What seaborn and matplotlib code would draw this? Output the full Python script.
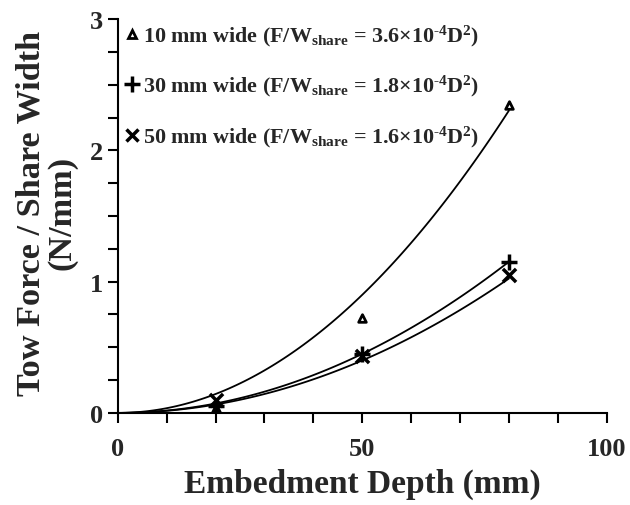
import numpy as np
import pandas as pd
import matplotlib
matplotlib.use("Agg")
import matplotlib.pyplot as plt
from matplotlib.lines import Line2D
from matplotlib.ticker import MultipleLocator
import seaborn as sns

# measured points
depth = [20, 50, 80]
force_10mm = [0.04, 0.72, 2.35]
force_30mm = [0.05, 0.45, 1.15]
force_50mm = [0.10, 0.43, 1.05]

# fitted coefficients (F/W = k * D^2)
coef = [3.6e-4, 1.8e-4, 1.6e-4]
names = ["10 mm wide", "30 mm wide", "50 mm wide"]
coef_txt = ["3.6", "1.8", "1.6"]

sns.set_style("ticks")
plt.rcParams['font.family'] = ['Liberation Serif', 'DejaVu Serif']
plt.rcParams['font.weight'] = 'bold'
plt.rcParams['mathtext.fontset'] = 'custom'
plt.rcParams['mathtext.rm'] = 'Liberation Serif:bold'
plt.rcParams['mathtext.it'] = 'Liberation Serif:bold'
plt.rcParams['mathtext.bf'] = 'Liberation Serif:bold'
plt.rcParams['mathtext.default'] = 'rm'

df = pd.DataFrame({
    "depth": depth * 3,
    "force": force_10mm + force_30mm + force_50mm,
    "series": [n for n in names for _ in depth],
})

fig = plt.figure(figsize=(6.3, 5.06), dpi=100)
ax = fig.add_axes([0.187, 0.182, 0.776, 0.778])

styles = {
    "10 mm wide": dict(marker="^", s=30, facecolor="white", edgecolor="black", linewidth=2),
    "30 mm wide": dict(marker="+", s=120, color="black", linewidth=2.5),
    "50 mm wide": dict(marker="x", s=90, color="black", linewidth=2.5),
}

dd = np.linspace(0, 80, 100)
for name, k in zip(names, coef):
    fit = pd.DataFrame({"depth": dd, "force": k * dd ** 2})
    sns.lineplot(data=fit, x="depth", y="force", ax=ax, color="black", linewidth=1.3)

for name in names:
    sub = df[df["series"] == name]
    sns.scatterplot(data=sub, x="depth", y="force", ax=ax, legend=False, zorder=5, **styles[name])

ax.set_xlim(0, 100)
ax.set_ylim(0, 3)
ax.xaxis.set_major_locator(MultipleLocator(50))
ax.xaxis.set_minor_locator(MultipleLocator(10))
ax.yaxis.set_major_locator(MultipleLocator(1))
ax.yaxis.set_minor_locator(MultipleLocator(0.25))
ax.tick_params(which="both", direction="out", length=7, width=1.5, labelsize=19, color="black")
ax.tick_params(axis="x", pad=10)
for sp in ["top", "right"]:
    ax.spines[sp].set_visible(False)
for sp in ["left", "bottom"]:
    ax.spines[sp].set_linewidth(1.5)
    ax.spines[sp].set_color("black")
for lab in ax.get_xticklabels() + ax.get_yticklabels():
    lab.set_fontweight("bold")

ax.set_xlabel("Embedment Depth (mm)", fontsize=24, fontweight="bold", labelpad=6)
ax.set_ylabel("Tow Force / Share Width\n(N/mm)", fontsize=24.7, fontweight="bold",
              linespacing=0.98)
ax.yaxis.set_label_coords(-0.082, 0.51)

handles = [
    Line2D([], [], linestyle="none", marker="^", markersize=6, markerfacecolor="white",
           markeredgecolor="black", markeredgewidth=2),
    Line2D([], [], linestyle="none", marker="+", markersize=11, color="black", markeredgewidth=2.5),
    Line2D([], [], linestyle="none", marker="x", markersize=9, color="black", markeredgewidth=2.5),
]
labels = [f"{n} (F/W$_{{share}}$ = {c}×10$^{{‐4}}$D$^{{2}}$)" for n, c in zip(names, coef_txt)]
ax.legend(handles, labels, loc="upper left", bbox_to_anchor=(-0.015, 1.03), frameon=False,
          fontsize=15.8, handlelength=0.6, handletextpad=0.2, labelspacing=1.15, borderaxespad=0.3)

fig.savefig("out.png", dpi=100)
